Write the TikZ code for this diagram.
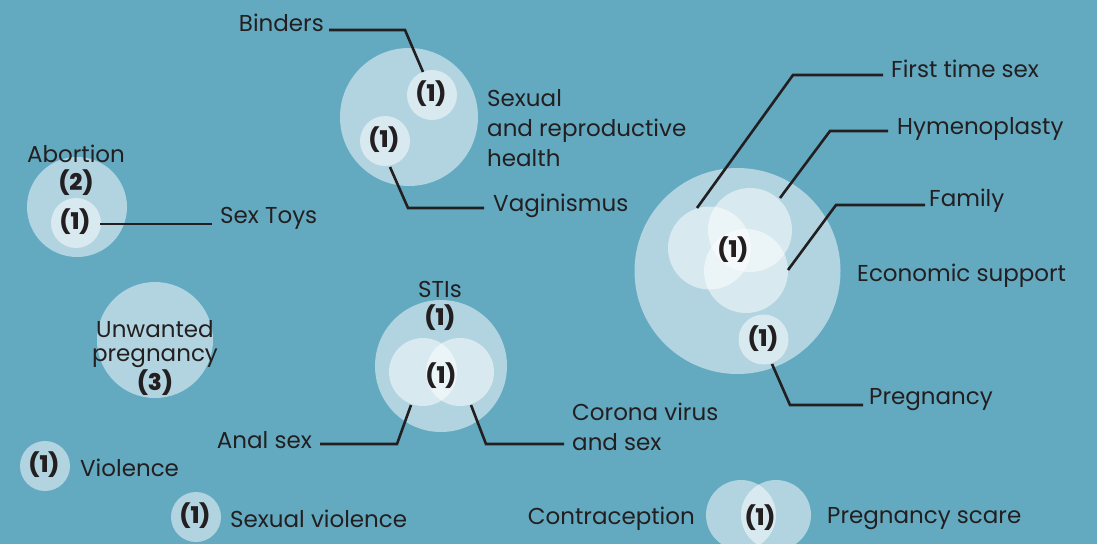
\documentclass[tikz,border=0pt]{standalone}
\usepackage{fontspec}
\setmainfont{Poppins}
\newfontfamily\heavy{Poppins ExtraBold}
\definecolor{bg}{RGB}{99,170,193}
\definecolor{ink}{RGB}{35,31,32}
\begin{document}
\begin{tikzpicture}[x=1pt,y=-1pt,
  bubble/.style={fill=white,fill opacity=0.5,draw=none},
  lbl/.style={text=ink,font=\fontsize{23}{30}\selectfont,inner sep=0pt},
  cnt/.style={text=ink,font=\fontsize{23}{25}\selectfont\heavy,inner sep=0pt},
  conn/.style={draw=ink,line width=2.6pt}]
\fill[bg] (0,0) rectangle (1097,544);
\useasboundingbox (0,0) rectangle (1097,544);
% Abortion
\fill[bubble] (77,207) circle (50);
\fill[bubble] (76,223) circle (25);
\node[lbl] (abort) at (76,154) {Abortion};
\node[cnt] (a2) at (76,183) {(2)};
\node[cnt] (a1) at (75,222) {(1)};
\coordinate (a1e) at (100,224);
\node[lbl,anchor=west] (toys) at (220,218) {Sex Toys};
\coordinate (toyl) at (212,224);
\draw[conn] (a1e) -- (toyl);
% Unwanted pregnancy
\fill[bubble] (155,340) circle (58);
\node[lbl,align=center,font=\fontsize{23}{24}\selectfont] (unw) at (155,344) {Unwanted\\pregnancy};
\node[cnt] (unw3) at (155,383) {(3)};
% Violence
\fill[bubble] (45,466) circle (25);
\node[cnt] (v1) at (44,465) {(1)};
\node[lbl,anchor=west] (viol) at (80,468) {Violence};
\fill[bubble] (196,517) circle (25);
\node[cnt] (sv1) at (195,516) {(1)};
\node[lbl,anchor=west] (sviol) at (230,519) {Sexual violence};
% Sexual and reproductive health
\fill[bubble] (409,117) circle (69);
\fill[bubble] (432,95) circle (25);
\fill[bubble] (385,141) circle (25);
\node[cnt] (b1) at (431,94) {(1)};
\node[cnt] (vg1) at (384,140) {(1)};
\node[lbl,anchor=east] (binders) at (324,23) {Binders};
\node[lbl,anchor=west,align=left] (srh) at (487,128) {Sexual\\and reproductive\\health};
\node[lbl,anchor=west] (vag) at (493,206) {Vaginismus};
\coordinate (bt) at (423,72);
\coordinate (vt) at (390,167);
\draw[conn] (bt) -- (405,30) -- (329,30);
\draw[conn] (vt) -- (408,208) -- (484,208);
% STIs
\fill[bubble] (441,366) circle (66);
\fill[bubble] (423,372) circle (34);
\fill[bubble] (460,372) circle (34);
\node[lbl] (sti) at (440,289) {STIs};
\node[cnt] (sti1) at (440,318) {(1)};
\node[cnt] (sti2) at (441,376) {(1)};
\node[lbl,anchor=east] (anal) at (312,440) {Anal sex};
\node[lbl,anchor=west,align=left] (corona) at (572,427) {Corona virus\\and sex};
\coordinate (at) at (411,405);
\coordinate (ct) at (471,405);
\draw[conn] (at) -- (397,444) -- (320,444);
\draw[conn] (ct) -- (486,444) -- (564,444);
% Right group
\fill[bubble] (737.5,271) circle (103);
\fill[bubble] (709.5,248) circle (41.5);
\fill[bubble] (750,230) circle (42);
\fill[bubble] (746,271) circle (42);
\fill[bubble] (763.5,339.5) circle (25);
\node[cnt] (r1) at (733,250) {(1)};
\node[cnt] (p1) at (763,339) {(1)};
\node[lbl,anchor=west] (first) at (891,69) {First time sex};
\node[lbl,anchor=west] (hymen) at (897,129) {Hymenoplasty};
\node[lbl,anchor=west] (family) at (929,201) {Family};
\node[lbl,anchor=west] (econ) at (857,276) {Economic support};
\node[lbl,anchor=west] (preg) at (869,400) {Pregnancy};
\coordinate (ft) at (697,208);
\coordinate (ht) at (780,198);
\coordinate (fmt) at (788,270);
\coordinate (pt) at (772,364);
\draw[conn] (ft) -- (793,75) -- (883,75);
\draw[conn] (ht) -- (830,131) -- (888,131);
\draw[conn] (fmt) -- (836,205) -- (925,205);
\draw[conn] (pt) -- (790,405) -- (863,405);
% Contraception
\fill[bubble] (741,515) circle (35);
\fill[bubble] (776,515) circle (35);
\node[cnt] (c1) at (760,518) {(1)};
\node[lbl,anchor=east] (contra) at (695,519) {Contraception};
\node[lbl,anchor=west] (pscare) at (827,519) {Pregnancy scare};
\end{tikzpicture}
\end{document}
